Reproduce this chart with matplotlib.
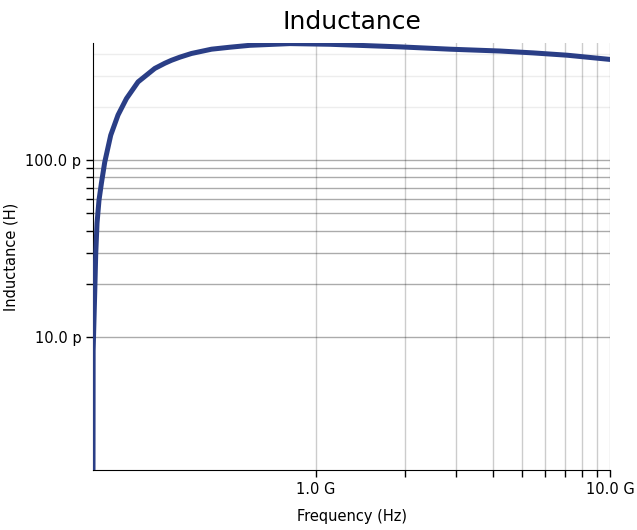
import matplotlib
matplotlib.use("Agg")
import matplotlib.pyplot as plt
from matplotlib.ticker import EngFormatter, FixedLocator, NullFormatter

# frequency sweep (Hz) and extracted inductance (H)
freq = [1.748e8, 1.750e8, 1.772e8, 1.786e8, 1.804e8, 1.832e8, 1.867e8,
        1.916e8, 2.008e8, 2.126e8, 2.271e8, 2.487e8, 2.834e8, 3.065e8,
        3.230e8, 3.446e8, 3.777e8, 4.418e8, 5.099e8, 5.964e8, 8.157e8,
        1.116e9, 1.931e9, 2.857e9, 4.225e9, 5.472e9, 7.140e9, 1.0e10]
induct = [1.77e-12, 8.4e-12, 1.8e-11, 2.98e-11, 4.41e-11, 5.94e-11, 7.42e-11,
          9.74e-11, 1.384e-10, 1.80e-10, 2.23e-10, 2.77e-10, 3.30e-10, 3.53e-10,
          3.67e-10, 3.82e-10, 4.01e-10, 4.24e-10, 4.35e-10, 4.46e-10, 4.56e-10,
          4.52e-10, 4.37e-10, 4.24e-10, 4.14e-10, 4.04e-10, 3.92e-10, 3.71e-10]

x_major = [1e9, 1e10]
x_minor = [2e9, 3e9, 4e9, 5e9, 6e9, 7e9, 8e9, 9e9]
y_major = [1e-11, 1e-10]
y_minor = [2e-11, 3e-11, 4e-11, 5e-11, 6e-11, 7e-11, 8e-11, 9e-11]
faint_grid = [2e-10, 3e-10, 4e-10]

fig = plt.figure(figsize=(6.37, 5.30), dpi=100)
ax = fig.add_axes([0.146, 0.113, 0.812, 0.806])

ax.plot(freq, induct, color="#2a3e86", linewidth=3.6, solid_capstyle="butt",
        zorder=3)
ax.set_xscale("log")
ax.set_yscale("log")
ax.set_xlim(1.748e8, 1e10)
ax.set_ylim(1.77e-12, 4.6e-10)

ax.xaxis.set_major_locator(FixedLocator(x_major))
ax.xaxis.set_minor_locator(FixedLocator(x_minor))
ax.yaxis.set_major_locator(FixedLocator(y_major))
ax.yaxis.set_minor_locator(FixedLocator(y_minor))
fmt = EngFormatter(places=1, sep=" ")
ax.xaxis.set_major_formatter(fmt)
ax.yaxis.set_major_formatter(fmt)
ax.xaxis.set_minor_formatter(NullFormatter())
ax.yaxis.set_minor_formatter(NullFormatter())

ax.tick_params(which="both", direction="out", length=5, width=1,
               labelsize=10.5, color="black")
ax.grid(True, axis="x", which="both", color="black", alpha=0.2, linewidth=1)
ax.grid(True, axis="y", which="both", color="black", alpha=0.33, linewidth=1)
for yv in faint_grid:
    ax.axhline(yv, color="black", alpha=0.07, linewidth=1, zorder=1)

ax.spines["top"].set_visible(False)
ax.spines["right"].set_visible(False)

ax.set_title("Inductance", fontsize=18, pad=10)
ax.set_xlabel("Frequency (Hz)", fontsize=10.5, labelpad=9)
ax.set_ylabel("Inductance (H)", fontsize=10.5, labelpad=5)

fig.savefig("out.png", dpi=100)
